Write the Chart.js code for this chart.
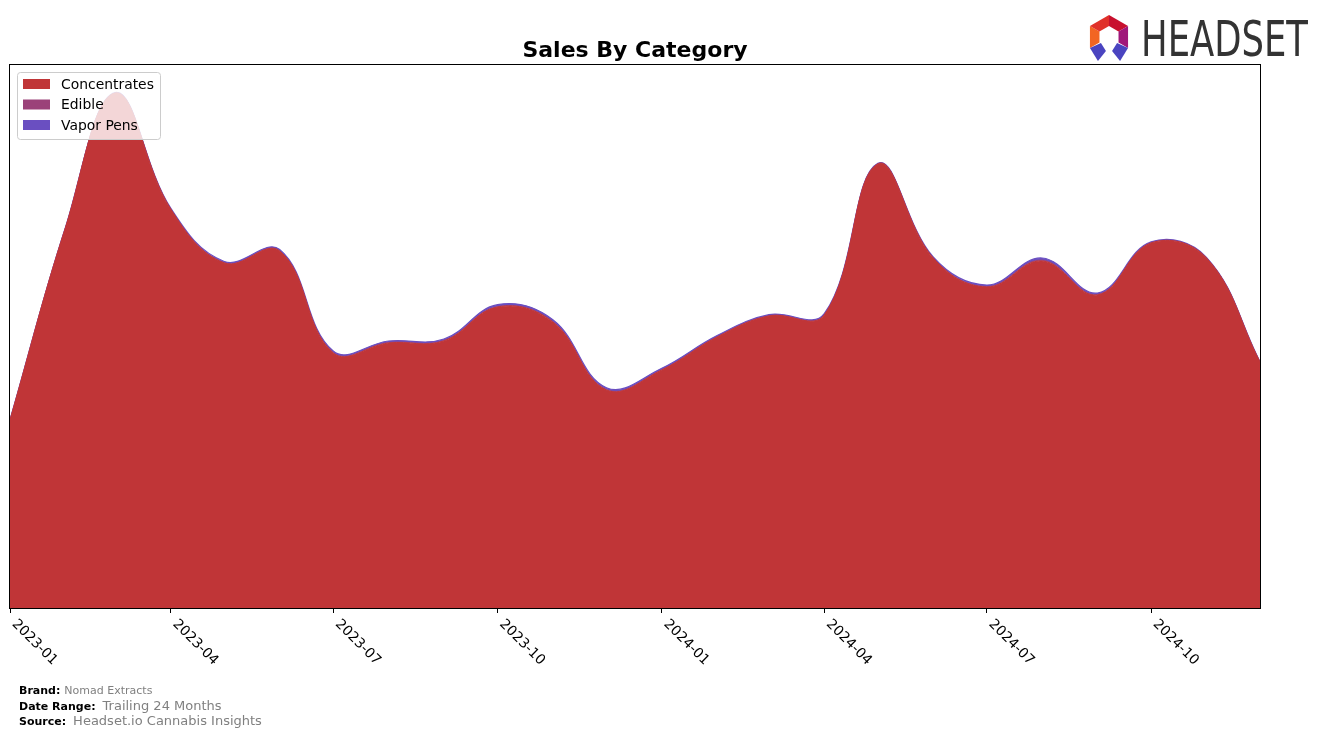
<!DOCTYPE html>
<html>
<head>
<meta charset="utf-8">
<script src="https://cdn.jsdelivr.net/npm/chart.js@4"></script>
<style>
  html, body { margin: 0; padding: 0; background: #fff; }
  #wrap { width: 1324px; height: 738px; position: relative; }
</style>
</head>
<body>
<div id="wrap"><canvas id="myChart" width="1324" height="738"></canvas></div>
<script>
// Months shown on the chart (first day of each month)
var months = [
  "2023-01", "2023-02", "2023-03", "2023-04", "2023-05", "2023-06",
  "2023-07", "2023-08", "2023-09", "2023-10", "2023-11", "2023-12",
  "2024-01", "2024-02", "2024-03", "2024-04", "2024-05", "2024-06",
  "2024-07", "2024-08", "2024-09", "2024-10", "2024-11", "2024-12"
];

// Sales per category (thousands)
var concentrates = [
  188, 380, 515, 399, 345, 357,
  255, 265, 267, 301, 286, 218,
  238, 271, 292, 293, 444, 350,
  321, 347, 313, 365, 350, 246
];
var edible = [
  0, 0, 0, 0, 0.3, 0.3,
  0.5, 0.5, 0.5, 0.5, 0.5, 0.5,
  0.3, 0.3, 0.3, 0.3, 0.2, 0.2,
  0.5, 0.8, 0.5, 0.3, 0.2, 0
];
var vaporPens = [
  0.3, 0.3, 0.5, 0.8, 1.2, 1.2,
  1.5, 1.5, 1.5, 1.8, 1.8, 1.8,
  1.5, 1.2, 1, 1, 0.5, 0.8,
  1.5, 2.2, 1.5, 0.8, 0.5, 0.3
];

var tickMonths = ["2023-01", "2023-04", "2023-07", "2023-10", "2024-01", "2024-04", "2024-07", "2024-10"];

var yMax = 543;

var colors = {
  Concentrates: "#c03537",
  Edible: "#9b4279",
  "Vapor Pens": "#6a4fc1"
};

// day offset from 2023-01-01
function dayOf(m) {
  var p = m.split("-");
  return (Date.UTC(+p[0], +p[1] - 1, 1) - Date.UTC(2023, 0, 1)) / 86400000;
}

function toPoints(arr) {
  return arr.map(function (v, i) { return { x: dayOf(months[i]), y: v }; });
}

function series(label, arr, fill, width) {
  return {
    label: label,
    data: toPoints(arr),
    backgroundColor: colors[label],
    borderColor: colors[label],
    borderWidth: width,
    fill: fill,
    tension: 0.4,
    pointRadius: 0
  };
}

var data = {
  datasets: [
    series("Concentrates", concentrates, "origin", 1),
    series("Edible", edible, "-1", 1),
    series("Vapor Pens", vaporPens, "-1", 1.2)
  ]
};

// draws title, frame, rotated tick labels, legend, footer and logo
var decor = {
  id: "decor",
  afterDraw: function (chart) {
    var ctx = chart.ctx;
    var a = chart.chartArea;
    var xs = chart.scales.x;
    ctx.save();

    // frame
    ctx.strokeStyle = "#000";
    ctx.lineWidth = 1;
    ctx.strokeRect(Math.round(a.left) - 0.5, Math.round(a.top) - 0.5, Math.round(a.right - a.left) + 1, Math.round(a.bottom - a.top) + 1);

    // title
    ctx.fillStyle = "#000";
    ctx.font = "bold 22px 'DejaVu Sans'";
    ctx.textAlign = "center";
    ctx.textBaseline = "alphabetic";
    ctx.fillText("Sales By Category", (a.left + a.right) / 2, 57);

    // x labels rotated
    ctx.font = "13.9px 'DejaVu Sans'";
    ctx.textAlign = "left";
    ctx.textBaseline = "top";
    tickMonths.forEach(function (m) {
      var px = xs.getPixelForValue(dayOf(m));
      ctx.save();
      ctx.translate(px + 9, a.bottom + 9);
      ctx.rotate(Math.PI / 4);
      ctx.fillText(m, 0, 0);
      ctx.restore();
    });

    // legend
    var lx = 17, ly = 72, lw = 143, lh = 67;
    ctx.fillStyle = "rgba(255,255,255,0.8)";
    ctx.strokeStyle = "#cccccc";
    ctx.lineWidth = 1;
    ctx.beginPath();
    ctx.roundRect(lx + 0.5, ly + 0.5, lw, lh, 3);
    ctx.fill();
    ctx.stroke();
    ctx.font = "13.9px 'DejaVu Sans'";
    ctx.textBaseline = "middle";
    chart.data.datasets.forEach(function (ds, i) {
      var cy = ly + 12 + i * 20.5;
      ctx.fillStyle = ds.backgroundColor;
      ctx.fillRect(23, cy - 5, 27, 10);
      ctx.fillStyle = "#000";
      ctx.fillText(ds.label, 61, cy + 1);
    });

    // footer
    ctx.textBaseline = "alphabetic";
    function pair(label, value, y, size, gap) {
      ctx.font = "bold 11px 'DejaVu Sans'";
      ctx.fillStyle = "#000";
      ctx.fillText(label, 19, y);
      var w = ctx.measureText(label).width;
      ctx.font = size + "px 'DejaVu Sans'";
      ctx.fillStyle = "#808080";
      ctx.fillText(value, 19 + w + gap, y);
    }
    pair("Brand:", "Nomad Extracts", 694, 11, 4);
    pair("Date Range:", "Trailing 24 Months", 710, 13, 7);
    pair("Source:", "Headset.io Cannabis Insights", 725, 13, 7);

    // logo
    var cx = 1109, cy0 = 37;
    var pts = [];
    for (var k = 0; k < 6; k++) {
      var ang = -Math.PI / 2 + k * Math.PI / 3;
      pts.push([cx + 22 * Math.cos(ang), cy0 + 22 * Math.sin(ang)]);
    }
    var segCols = ["#c8102e", "#a0177a", "#4b3fb5", "#3b2f9c", "#f26522", "#e0312a"];
    for (var k = 0; k < 6; k++) {
      if (k === 2 || k === 3) continue;
      var p1 = pts[k], p2 = pts[(k + 1) % 6];
      var q1 = [cx + (p1[0] - cx) * 0.5, cy0 + (p1[1] - cy0) * 0.5];
      var q2 = [cx + (p2[0] - cx) * 0.5, cy0 + (p2[1] - cy0) * 0.5];
      ctx.fillStyle = segCols[k];
      ctx.beginPath();
      ctx.moveTo(p1[0], p1[1]); ctx.lineTo(p2[0], p2[1]);
      ctx.lineTo(q2[0], q2[1]); ctx.lineTo(q1[0], q1[1]);
      ctx.closePath();
      ctx.fill();
    }
    // feet
    ctx.fillStyle = "#4a44c0";
    ctx.beginPath();
    ctx.moveTo(pts[2][0], pts[2][1]); ctx.lineTo(pts[2][0] - 8, pts[2][1] + 13);
    ctx.lineTo(pts[2][0] - 16, pts[2][1] + 3); ctx.lineTo(pts[2][0] - 11, pts[2][1] - 5);
    ctx.closePath(); ctx.fill();
    ctx.beginPath();
    ctx.moveTo(pts[4][0], pts[4][1]); ctx.lineTo(pts[4][0] + 8, pts[4][1] + 13);
    ctx.lineTo(pts[4][0] + 16, pts[4][1] + 3); ctx.lineTo(pts[4][0] + 11, pts[4][1] - 5);
    ctx.closePath(); ctx.fill();

    // wordmark, squeezed to the reference width
    ctx.fillStyle = "#333333";
    ctx.font = "50px 'DejaVu Sans'";
    ctx.textAlign = "left";
    ctx.textBaseline = "alphabetic";
    var tw = ctx.measureText("HEADSET").width;
    ctx.save();
    ctx.translate(1141, 56);
    ctx.scale(167 / tw, 1);
    ctx.fillText("HEADSET", 0, 0);
    ctx.restore();

    ctx.restore();
  }
};

var config = {
  type: "line",
  data: data,
  options: {
    responsive: false,
    animation: false,
    layout: { padding: { left: 10, right: 64, top: 65, bottom: 125 } },
    plugins: {
      legend: { display: false },
      title: { display: false },
      tooltip: { enabled: false },
      filler: { propagate: false }
    },
    scales: {
      x: {
        type: "linear",
        min: dayOf("2023-01"),
        max: dayOf("2024-12"),
        afterBuildTicks: function (axis) {
          axis.ticks = tickMonths.map(function (m) { return { value: dayOf(m) }; });
        },
        ticks: { display: false },
        grid: { display: true, drawOnChartArea: false, drawTicks: true, tickLength: 5, color: "#000" },
        border: { display: false }
      },
      y: {
        display: false,
        stacked: true,
        min: 0,
        max: yMax
      }
    }
  },
  plugins: [decor]
};

var myChart = new Chart(document.getElementById("myChart").getContext("2d"), config);
</script>
</body>
</html>
